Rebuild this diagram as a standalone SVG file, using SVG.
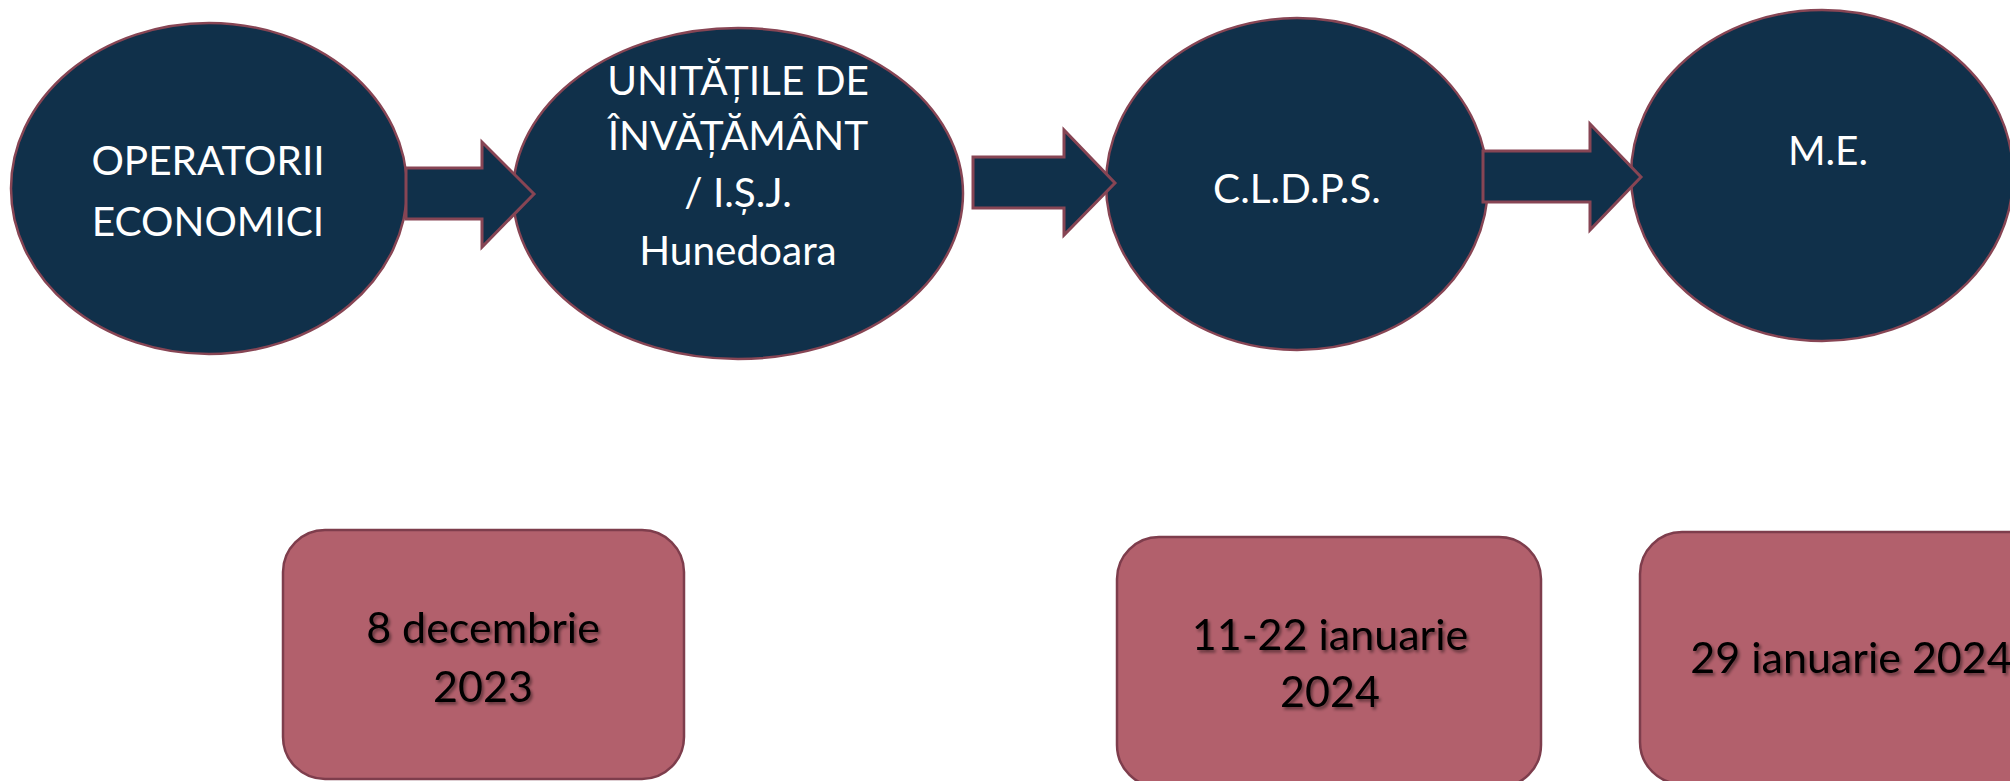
<svg xmlns="http://www.w3.org/2000/svg" width="2010" height="781" viewBox="0 0 2010 781">
<defs>
<filter id="tshadow" x="-10%" y="-20%" width="120%" height="150%">
<feDropShadow dx="2" dy="2.5" stdDeviation="1.5" flood-color="#000" flood-opacity="0.45"/>
</filter>
</defs>
<style>
.oval{fill:#10304a;stroke:#874554;stroke-width:2.5}
.arrow{fill:#10304a;stroke:#874554;stroke-width:3;stroke-linejoin:miter}
.box{fill:#b2606c;stroke:#7e3d4c;stroke-width:2.5}
.wt{font-family:"Lato","Open Sans","Liberation Sans",sans-serif;font-size:40.5px;fill:#ffffff;text-anchor:middle}
.dt{font-family:"Lato","Open Sans","Liberation Sans",sans-serif;font-size:43px;fill:#000000;text-anchor:middle;filter:url(#tshadow)}
</style>
<rect x="0" y="0" width="2010" height="781" fill="#ffffff"/>
<g id="node-operatorii">
<ellipse class="oval" cx="209" cy="188.5" rx="198" ry="165.5"/>
<text class="wt" x="208" y="175">OPERATORII</text>
<text class="wt" x="208" y="236">ECONOMICI</text>
</g>
<g id="node-unitatile">
<ellipse class="oval" cx="738" cy="193.5" rx="225" ry="165.5"/>
<text class="wt" x="738" y="95">UNITĂȚILE DE</text>
<text class="wt" x="738" y="150">ÎNVĂȚĂMÂNT</text>
<text class="wt" x="738" y="207">/ I.Ș.J.</text>
<text class="wt" x="738" y="265">Hunedoara</text>
</g>
<g id="node-cldps">
<ellipse class="oval" cx="1297" cy="184" rx="191" ry="166"/>
<text class="wt" x="1297" y="203">C.L.D.P.S.</text>
</g>
<g id="node-me">
<ellipse class="oval" cx="1822" cy="175.5" rx="191" ry="165.5"/>
<text class="wt" x="1828" y="165">M.E.</text>
</g>
<g id="connectors">
<polygon class="arrow" points="406,168 482,168 482,142 534,194 482,247 482,219 406,219"/>
<polygon class="arrow" points="973,157 1064,157 1064,130 1115,183 1064,235 1064,208 973,208"/>
<polygon class="arrow" points="1483,151 1590,151 1590,124 1641,177 1590,230 1590,202 1483,202"/>
</g>
<g id="date-1">
<rect class="box" x="283" y="530" width="401" height="249" rx="42" ry="42"/>
<text class="dt" x="483" y="643">8 decembrie</text>
<text class="dt" x="483" y="702">2023</text>
</g>
<g id="date-2">
<rect class="box" x="1117" y="537" width="424" height="250" rx="42" ry="42"/>
<text class="dt" x="1330" y="650">11-22 ianuarie</text>
<text class="dt" x="1330" y="707">2024</text>
</g>
<g id="date-3">
<rect class="box" x="1640" y="532" width="424" height="252" rx="42" ry="42"/>
<text class="dt" x="1851" y="673">29 ianuarie 2024</text>
</g>
</svg>
